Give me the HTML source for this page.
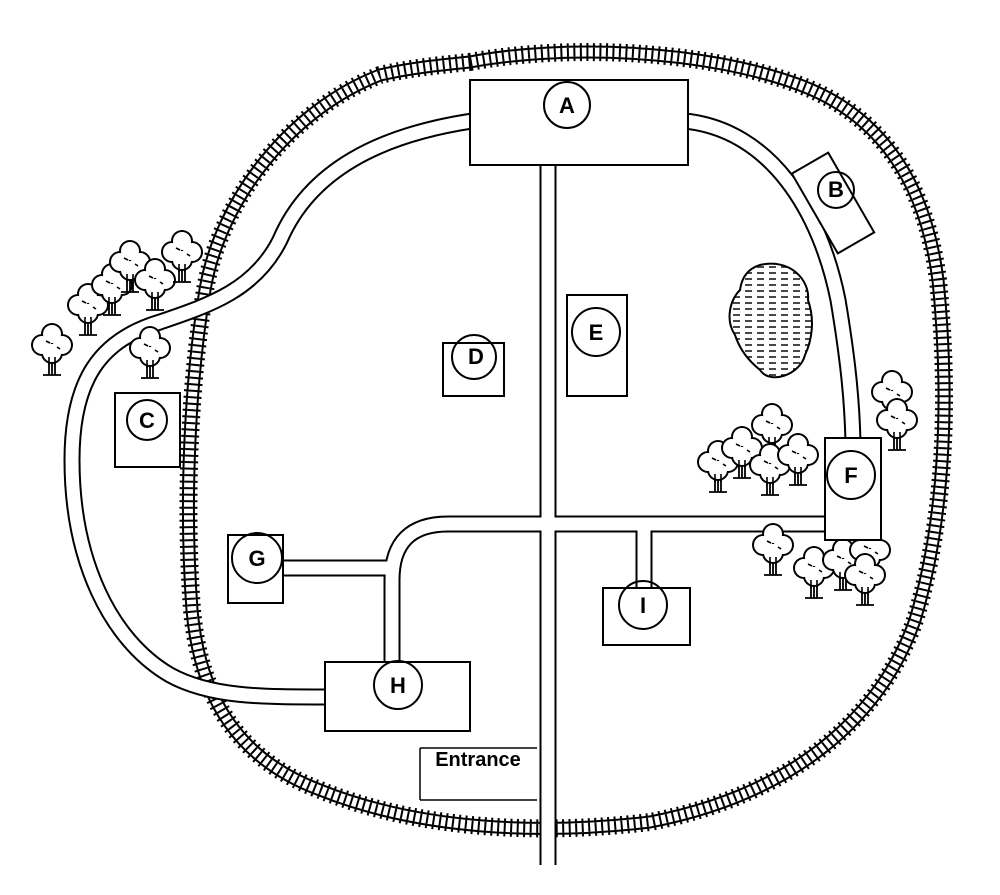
<!DOCTYPE html>
<html><head><style>
html,body{margin:0;padding:0;background:#fff;}
svg{display:block;}
</style></head><body>
<svg width="1000" height="895" viewBox="0 0 1000 895" xmlns="http://www.w3.org/2000/svg">
<defs>
<g id="tree">
  <path d="M-3 12 L-3 30 M3 12 L3 30 M-9 30 L9 30 M0 14 L0 30" stroke="#000" stroke-width="1.8" fill="none"/>
  <g fill="#000">
    <circle cx="0" cy="-11" r="11"/><circle cx="-10" cy="0" r="11"/><circle cx="10" cy="0" r="11"/><circle cx="0" cy="8" r="11"/>
  </g>
  <g fill="#fff">
    <circle cx="0" cy="-11" r="9"/><circle cx="-10" cy="0" r="9"/><circle cx="10" cy="0" r="9"/><circle cx="0" cy="8" r="9"/>
  </g>
  <path d="M-3 12 L-3 20 M3 12 L3 20 M-6 -4 L-2 -2 M5 2 L8 4" stroke="#000" stroke-width="1.6"/>
</g>
<pattern id="pond" width="12" height="6" patternUnits="userSpaceOnUse">
  <rect width="12" height="6" fill="#fff"/>
  <path d="M1 3 L8 3" stroke="#333" stroke-width="1.8"/>
</pattern>
<path id="trk" d="M470 62 C560 45 700 48 800 85 C880 115 925 180 938 280 C950 400 945 520 915 620 C880 720 790 795 650 822 C540 835 420 830 320 790 C240 760 200 700 192 610 C184 500 190 380 205 290 C220 200 290 110 380 75 C410 68 440 65 470 62 Z"/>
</defs>

<!-- railway track -->
<g fill="none">
<use href="#trk" stroke="#000" stroke-width="18" stroke-dasharray="2 4.5"/>
<use href="#trk" stroke="#000" stroke-width="13"/>
<use href="#trk" stroke="#fff" stroke-width="9"/>
<use href="#trk" stroke="#000" stroke-width="9" stroke-dasharray="2 4.5"/>
</g>

<!-- roads -->
<g fill="none" stroke-linecap="butt">
  <g stroke="#000" stroke-width="17">
    <path d="M548 160 L548 865"/>
    <path d="M392 670 L392 580 Q392 524 448 524 L830 524"/>
    <path d="M280 568 L392 568"/>
    <path d="M644 524 L644 595"/>
    <path d="M685 121 C770 130 820 210 838 300 C848 360 852 400 853 442"/>
    <path d="M472 121 C380 135 310 170 280 240 C255 290 210 305 160 322 C100 340 72 380 72 460 C72 560 110 640 170 675 C210 697 260 697 330 697"/>
  </g>
  <g stroke="#fff" stroke-width="13">
    <path d="M548 160 L548 870"/>
    <path d="M392 670 L392 580 Q392 524 448 524 L830 524"/>
    <path d="M280 568 L392 568"/>
    <path d="M644 524 L644 595"/>
    <path d="M685 121 C770 130 820 210 838 300 C848 360 852 400 853 442"/>
    <path d="M472 121 C380 135 310 170 280 240 C255 290 210 305 160 322 C100 340 72 380 72 460 C72 560 110 640 170 675 C210 697 260 697 330 697"/>
  </g>
</g>

<!-- pond -->
<path d="M760 265 C790 258 810 280 808 300 C815 320 812 340 805 355 C800 375 770 385 760 370 C748 360 740 350 735 335 C725 320 730 300 740 290 C742 275 750 268 760 265 Z" fill="url(#pond)" stroke="#000" stroke-width="2"/>

<!-- trees -->
<use href="#tree" x="52" y="345"/>
<use href="#tree" x="88" y="305"/>
<use href="#tree" x="112" y="285"/>
<use href="#tree" x="130" y="262"/>
<use href="#tree" x="155" y="280"/>
<use href="#tree" x="182" y="252"/>
<use href="#tree" x="150" y="348"/>
<use href="#tree" x="718" y="462"/>
<use href="#tree" x="742" y="448"/>
<use href="#tree" x="772" y="425"/>
<use href="#tree" x="770" y="465"/>
<use href="#tree" x="798" y="455"/>
<use href="#tree" x="892" y="392"/>
<use href="#tree" x="897" y="420"/>
<use href="#tree" x="773" y="545"/>
<use href="#tree" x="814" y="568"/>
<use href="#tree" x="843" y="560"/>
<use href="#tree" x="870" y="550"/>
<use href="#tree" x="865" y="575"/>

<!-- buildings -->
<g fill="#fff" stroke="#000" stroke-width="2">
  <rect x="470" y="80" width="218" height="85"/>
  <rect x="812" y="157" width="42" height="92" transform="rotate(-30 833 203)"/>
  <rect x="115" y="393" width="65" height="74"/>
  <rect x="443" y="343" width="61" height="53"/>
  <rect x="567" y="295" width="60" height="101"/>
  <rect x="825" y="438" width="56" height="102"/>
  <rect x="228" y="535" width="55" height="68"/>
  <rect x="325" y="662" width="145" height="69"/>
  <rect x="603" y="588" width="87" height="57"/>
  <path d="M420 748 L537 748 M420 748 L420 800 M420 800 L537 800" stroke-width="1.5"/>
</g>
<g fill="none" stroke="#000" stroke-width="2">
  <circle cx="567" cy="105" r="23"/>
  <circle cx="836" cy="190" r="18"/>
  <circle cx="147" cy="420" r="20"/>
  <circle cx="474" cy="357" r="22"/>
  <circle cx="596" cy="332" r="24"/>
  <circle cx="851" cy="475" r="24"/>
  <circle cx="257" cy="558" r="25"/>
  <circle cx="398" cy="685" r="24"/>
  <circle cx="643" cy="605" r="24"/>
</g>
<g font-family="Liberation Sans, sans-serif" font-weight="bold" font-size="22" text-anchor="middle" fill="#000">
  <text x="567" y="113">A</text>
  <text x="836" y="197">B</text>
  <text x="147" y="428">C</text>
  <text x="476" y="364">D</text>
  <text x="596" y="340">E</text>
  <text x="851" y="483">F</text>
  <text x="257" y="566">G</text>
  <text x="398" y="693">H</text>
  <text x="643" y="613">I</text>
  <text x="478" y="766" font-size="20">Entrance</text>
</g>
</svg>
</body></html>
